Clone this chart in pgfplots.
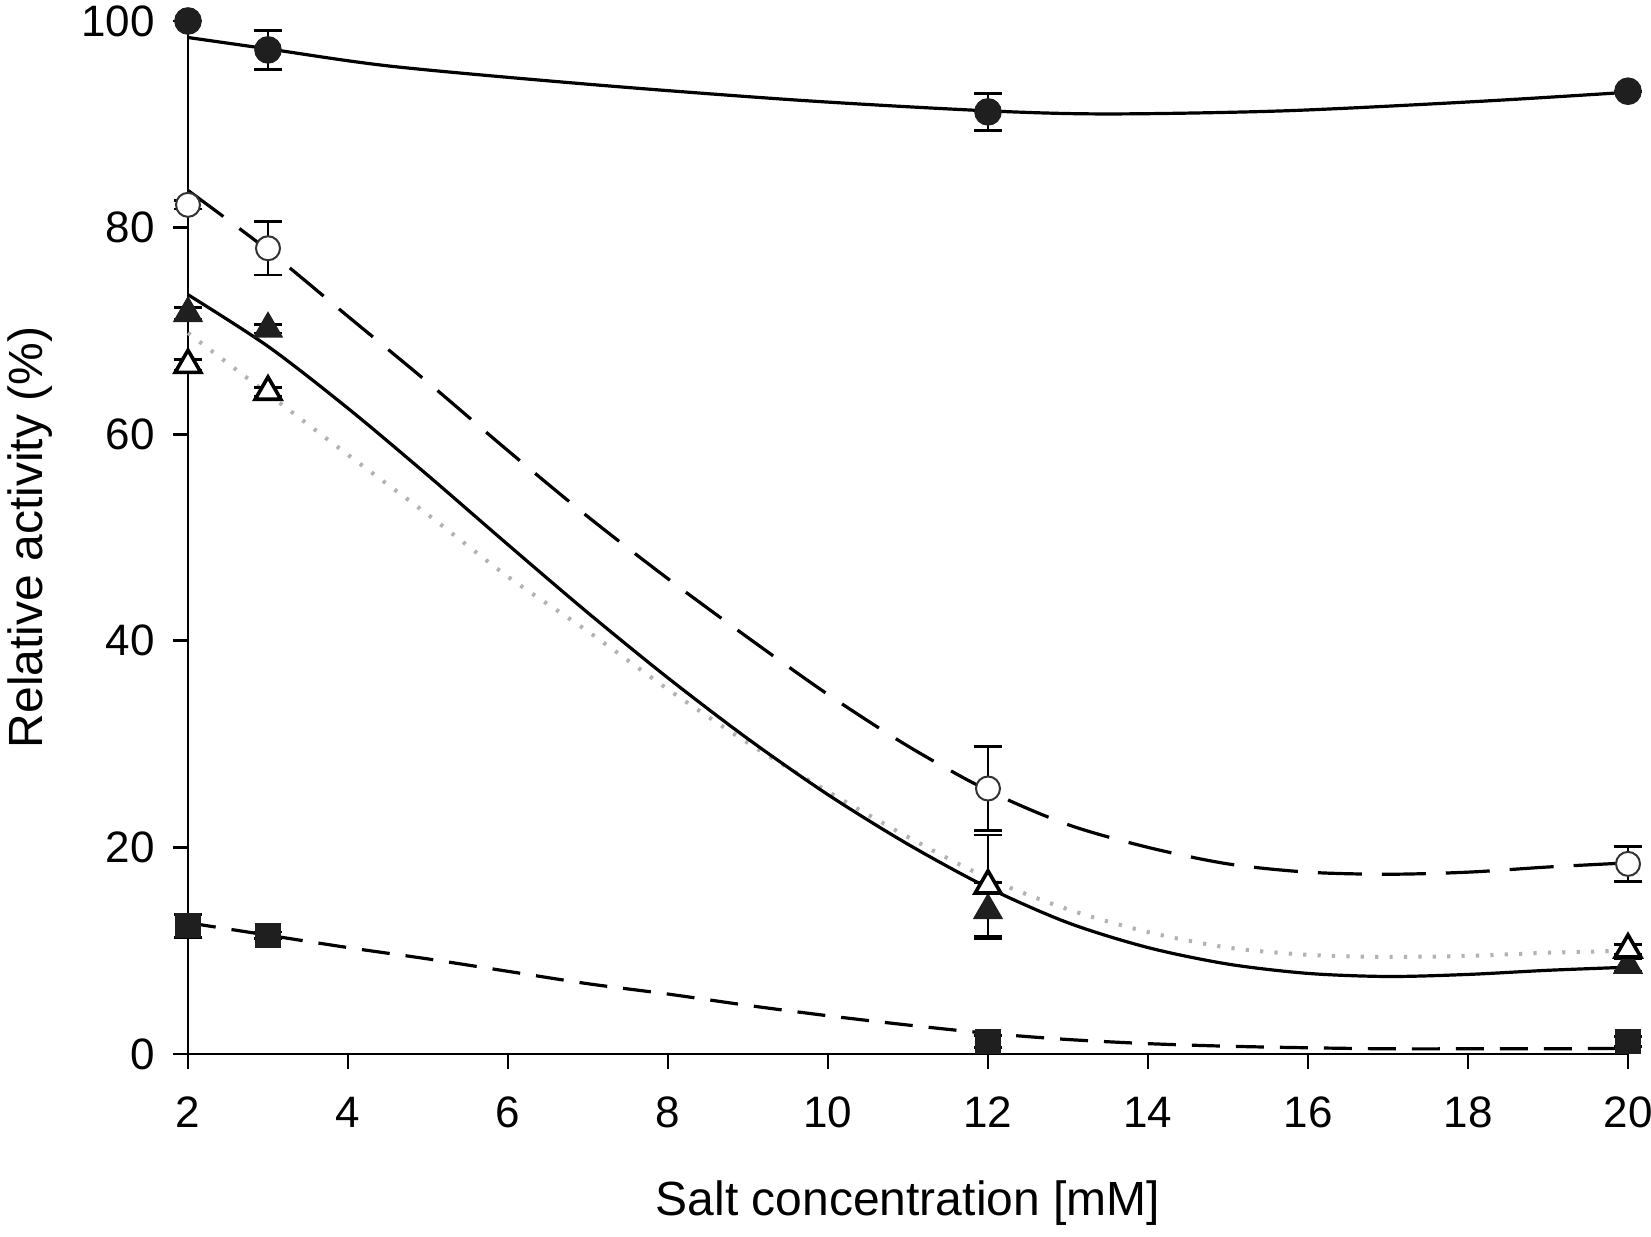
\documentclass[border=0pt]{standalone}
\usepackage{fontspec}
\setmainfont{Liberation Sans}
\usepackage{pgfplots}
\usepackage{pgfplotstable}
\pgfplotsset{compat=1.18}
\pgfplotstableread{
x y e
2 100 0
3 97.2 1.9
12 91.2 1.8
20 93.2 0
}\fcirc
\pgfplotstableread{
x y e
2 82.2 0.4
3 78.0 2.6
12 25.7 4.1
20 18.4 1.7
}\ocirc
\pgfplotstableread{
x y e
2 71.7 0.6
3 70.2 0.4
12 13.9 2.7
20 8.6 0.6
}\ftri
\pgfplotstableread{
x y e
2 66.7 0.5
3 64.1 0.4
12 16.3 4.9
20 10.1 0.5
}\otri
\pgfplotstableread{
x y e
2 12.4 1.1
3 11.5 0.3
12 1.2 0.6
20 1.2 0.5
}\fsq
\begin{document}
\begin{tikzpicture}
\begin{axis}[
  at={(0,0)}, anchor=south west,
  scale only axis, width=360pt, height=258.25pt,
  xmin=2, xmax=20, ymin=0, ymax=100,
  axis x line*=bottom, axis y line*=left,
  axis line style={line width=0.7pt, black},
  xtick={2,4,...,20}, ytick={0,20,...,100},
  tick align=outside, major tick length=3.75pt,
  tick style={line width=0.7pt, black},
  minor tick num=0,
  ticklabel style={font=\fontsize{11}{13}\selectfont},
  /pgf/number format/assume math mode=true,
  xticklabel style={yshift=-3.5pt},
  yticklabel style={xshift=-1pt},
  xlabel={Salt concentration [mM]},
  ylabel={Relative activity (\%)},
  label style={font=\fontsize{12}{14}\selectfont},
  xlabel style={at={(axis description cs:0.5,-0.1442)}, anchor=center},
  ylabel style={at={(axis description cs:-0.1097,0.5)}, anchor=center},
  clip=false,
  error bars/error bar style={line width=0.7pt, black},
  error bars/error mark options={rotate=90, mark size=3.6pt, line width=0.7pt, black},
]
% fitted curves
\addplot[black, line width=0.8pt, smooth, no marks] coordinates {
(2,98.4)(3,97.3)(4.56,95.6)(7.12,93.8)(9.69,92.3)(12,91.3)(13.5,91.0)(15.7,91.3)(18.1,92.2)(20,93.1)};
\addplot[black, line width=0.8pt, smooth, no marks, dash pattern=on 11pt off 5pt] coordinates {
(2,83.6)(3,77.8)(4,71.4)(5,65.0)(6,58.4)(7,52.0)(8,46.0)(9,40.3)(10,34.8)(11,29.8)(12,25.5)(13,22.2)(14,20.0)(15,18.4)(16,17.6)(17,17.4)(18,17.6)(19,18.1)(20,18.5)};
\addplot[black!30, line width=1pt, smooth, no marks, dash pattern=on 0.8pt off 2.8pt] coordinates {
(2,69.8)(3,63.9)(4,58.0)(5,52.2)(6,46.2)(7,40.9)(8,35.3)(9,30.1)(10,25.4)(11,21.0)(12,17.0)(13,14.0)(14,11.8)(15,10.3)(16,9.6)(17,9.4)(18,9.5)(19,9.8)(20,10.0)};
\addplot[black, line width=0.8pt, smooth, no marks] coordinates {
(2,73.5)(3,68.5)(4,62.5)(5,56.0)(6,49.3)(7,42.7)(8,36.4)(9,30.5)(10,25.1)(11,20.3)(12,16.1)(13,12.7)(14,10.3)(15,8.7)(16,7.8)(17,7.5)(18,7.7)(19,8.1)(20,8.4)};
\addplot[black, line width=0.8pt, smooth, no marks, dash pattern=on 7pt off 4pt] coordinates {
(2,12.7)(3,11.5)(4,10.3)(5,9.2)(6,8.0)(7,6.8)(8,5.8)(9,4.7)(10,3.7)(11,2.8)(12,2.0)(13,1.4)(14,1.0)(15,0.75)(16,0.6)(17,0.5)(18,0.5)(19,0.5)(20,0.55)};
% data points
\addplot[only marks, mark=*, mark size=3.2pt, mark options={fill=black!88, draw=black!88, line width=0.5pt},
  error bars/.cd, y dir=both, y explicit] table[x=x, y=y, y error=e] {\fcirc};
\addplot[only marks, mark=*, mark size=3pt, mark options={fill=white, draw=black!80, line width=0.5pt},
  error bars/.cd, y dir=both, y explicit] table[x=x, y=y, y error=e] {\ocirc};
\addplot[only marks, mark=triangle*, mark size=3.9pt, mark options={fill=black!88, draw=black!88, line width=0.5pt},
  error bars/.cd, y dir=both, y explicit] table[x=x, y=y, y error=e] {\ftri};
\addplot[only marks, mark=triangle*, mark size=3.7pt, mark options={fill=white, draw=black, line width=0.9pt},
  error bars/.cd, y dir=both, y explicit] table[x=x, y=y, y error=e] {\otri};
\addplot[only marks, mark=square*, mark size=2.9pt, mark options={fill=black!88, draw=black!88, line width=0.5pt},
  error bars/.cd, y dir=both, y explicit] table[x=x, y=y, y error=e] {\fsq};
\end{axis}
\pgfresetboundingbox
\path[use as bounding box] (-47pt,-45.75pt) rectangle (365.75pt,263.5pt);
\end{tikzpicture}
\end{document}
